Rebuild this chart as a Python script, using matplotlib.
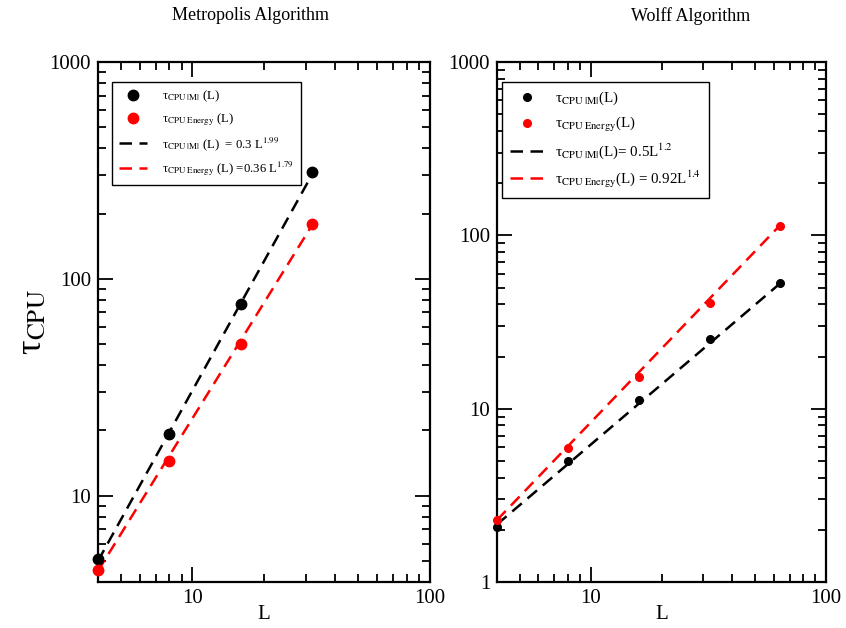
import numpy as np
import matplotlib
matplotlib.use("Agg")
import matplotlib.pyplot as plt
from matplotlib.ticker import LogLocator, FuncFormatter, NullFormatter

plt.rcParams['font.family'] = 'Liberation Serif'
plt.rcParams['mathtext.fontset'] = 'stix'

# Metropolis: autocorrelation CPU time vs lattice size
L_metro = [4, 8, 16, 32]
tau_metro_m = [5.1, 19.3, 77, 311]
tau_metro_e = [4.56, 14.4, 50, 180]
L_metro_fit = [4, 32]
fit_metro_m = [5.0, 305]
fit_metro_e = [4.5, 178]

# Wolff
L_wolff = [4, 8, 16, 32, 64]
tau_wolff_m = [2.08, 5.0, 11.3, 25.4, 52.8]
tau_wolff_e = [2.28, 5.96, 15.3, 40.5, 114]
L_wolff_fit = [4, 64]
fit_wolff_m = [2.15, 53]
fit_wolff_e = [2.28, 115]

titles = ["Metropolis Algorithm", "Wolff Algorithm"]
labels_metro = [r"τ$_{\rm CPU\ |M|}$ (L)",
                r"τ$_{\rm CPU\ Energy}$ (L)",
                r"τ$_{\rm CPU\ |M|}$ (L)  = 0.3 L$^{1.99}$",
                r"τ$_{\rm CPU\ Energy}$ (L) =0.36 L$^{1.79}$"]
labels_wolff = [r"τ$_{\rm CPU\ |M|}$(L)",
                r"τ$_{\rm CPU\ Energy}$(L)",
                r"τ$_{\rm CPU\ |M|}$(L)= 0.5L$^{1.2}$",
                r"τ$_{\rm CPU\ Energy}$(L) = 0.92L$^{1.4}$"]

fig = plt.figure(figsize=(8.46, 6.28), dpi=100)
ax1 = fig.add_axes([0.1158, 0.0732, 0.3924, 0.828])
ax2 = fig.add_axes([0.5875, 0.0732, 0.3889, 0.828])

fmt = FuncFormatter(lambda v, p: "%g" % v)


def style_axis(ax, ylim):
    ax.set_xscale('log')
    ax.set_yscale('log')
    ax.set_xlim(4, 100)
    ax.set_ylim(*ylim)
    for a in (ax.xaxis, ax.yaxis):
        a.set_major_locator(LogLocator(base=10))
        a.set_minor_locator(LogLocator(base=10, subs=np.arange(2, 10)))
        a.set_major_formatter(fmt)
        a.set_minor_formatter(NullFormatter())
    ax.tick_params(which='both', direction='in', top=True, right=True,
                   labelsize=15, width=1.3, pad=5)
    ax.tick_params(which='major', length=11)
    ax.tick_params(which='minor', length=5.5)
    for s in ax.spines.values():
        s.set_linewidth(1.6)
    ax.set_xlabel("L", fontsize=15, labelpad=-2)


style_axis(ax1, (4, 1000))
style_axis(ax2, (1, 1000))

dash = (5, 3)
ax1.plot(L_metro, tau_metro_m, 'o', color='black', ms=7.5, clip_on=False, zorder=4)
ax1.plot(L_metro, tau_metro_e, 'o', color='red', ms=7.5, clip_on=False, zorder=4)
ax1.plot(L_metro_fit, fit_metro_m, '--', color='black', lw=1.8, dashes=dash)
ax1.plot(L_metro_fit, fit_metro_e, '--', color='red', lw=1.8, dashes=dash)

ax2.plot(L_wolff, tau_wolff_m, 'o', color='black', ms=5.5, clip_on=False, zorder=4)
ax2.plot(L_wolff, tau_wolff_e, 'o', color='red', ms=5.5, clip_on=False, zorder=4)
ax2.plot(L_wolff_fit, fit_wolff_m, '--', color='black', lw=1.8, dashes=dash)
ax2.plot(L_wolff_fit, fit_wolff_e, '--', color='red', lw=1.8, dashes=dash)

legend_opts = [(ax1, labels_metro, (0.042, 0.962), 9.2, 0.55, 1.2),
               (ax2, labels_wolff, (0.015, 0.962), 10.8, 0.5, 0.8)]
for ax, labels, anchor, size, spacing, textpad in legend_opts:
    leg = ax.legend(ax.get_lines(), labels, loc='upper left',
                    bbox_to_anchor=anchor, borderaxespad=0, fontsize=size,
                    fancybox=False, framealpha=1, edgecolor='black',
                    handlelength=2.2, labelspacing=spacing, borderpad=0.55,
                    handletextpad=textpad)
    leg.get_frame().set_linewidth(1.0)

ax1.set_ylabel(r"τ$_{\rm CPU}$", fontsize=26, labelpad=0)

fig.text(0.296, 0.975, titles[0], ha='center', va='center', fontsize=13)
fig.text(0.816, 0.975, titles[1], ha='center', va='center', fontsize=13)

fig.savefig("out.png", dpi=100)
